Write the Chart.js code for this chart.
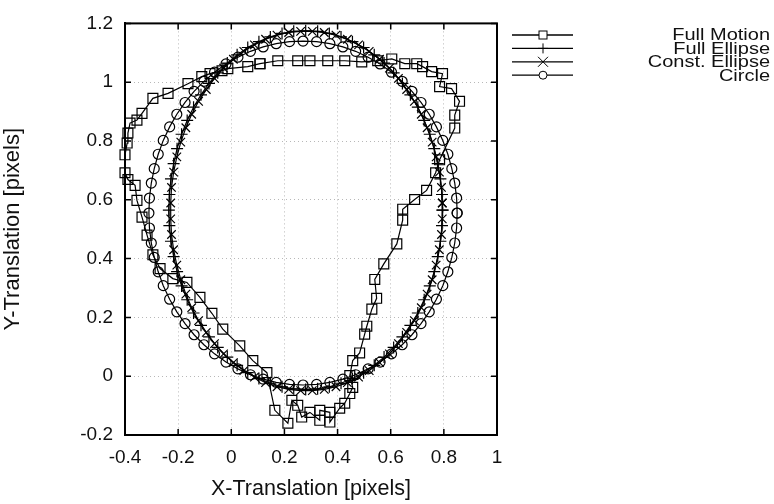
<!DOCTYPE html>
<html>
<head>
<meta charset="utf-8">
<script src="https://cdn.jsdelivr.net/npm/chart.js@4.4.1/dist/chart.umd.min.js"></script>
<style>
  html, body { margin: 0; padding: 0; background: #fff; }
  #wrap { width: 774px; height: 504px; }
</style>
</head>
<body>
<div id="wrap"><canvas id="motionChart" width="774" height="504"></canvas></div>
<script>
// tick labels
const xTicks = [-0.4, -0.2, 0, 0.2, 0.4, 0.6, 0.8, 1];
const yTicks = [-0.2, 0, 0.2, 0.4, 0.6, 0.8, 1, 1.2];

const seriesNames = ['Full Motion', 'Full Ellipse', 'Const. Ellipse', 'Circle'];

// Full Motion (squares)
const fullMotionX = [0.108,0.175,0.250,0.296,0.363,0.427,0.491,0.551,0.604,0.653,0.698,0.720,0.754,0.795,0.784,0.829,0.859,0.841,0.841,0.784,
  0.769,0.735,0.690,0.645,0.645,0.623,0.574,0.540,0.547,0.529,0.510,0.502,0.483,0.457,0.446,0.457,0.446,0.427,0.408,0.371,
  0.371,0.333,0.333,0.296,0.265,0.250,0.228,0.213,0.164,0.134,0.081,0.032,-0.032,-0.073,-0.118,-0.167,-0.220,-0.268,-0.295,-0.317,
  -0.336,-0.355,-0.362,-0.389,-0.400,-0.400,-0.392,-0.389,-0.381,-0.355,-0.336,-0.295,-0.238,-0.163,-0.111,-0.080,-0.035,-0.013,0.062,0.108];
const fullMotionY = [1.063,1.073,1.073,1.073,1.073,1.073,1.069,1.073,1.079,1.063,1.063,1.053,1.036,1.029,0.985,0.978,0.935,0.888,0.844,0.736,
  0.692,0.632,0.601,0.568,0.531,0.450,0.382,0.329,0.265,0.228,0.170,0.143,0.079,0.053,0.002,-0.038,-0.059,-0.092,-0.109,-0.156,
  -0.123,-0.116,-0.150,-0.123,-0.139,-0.099,-0.082,-0.160,-0.116,0.012,0.053,0.103,0.160,0.214,0.268,0.319,0.332,0.366,0.413,0.480,
  0.541,0.598,0.649,0.669,0.692,0.753,0.793,0.827,0.861,0.871,0.894,0.945,0.962,0.995,1.019,1.029,1.039,1.046,1.053,1.063];

// Full Ellipse (plus)
const fullEllipseX = [0.795,0.793,0.787,0.777,0.764,0.747,0.726,0.702,0.674,0.644,0.611,0.575,0.538,0.498,0.456,0.413,0.369,0.325,
  0.280,0.235,0.191,0.147,0.104,0.062,0.022,-0.015,-0.051,-0.084,-0.114,-0.142,-0.166,-0.187,-0.204,-0.217,-0.227,-0.233,
  -0.235,-0.233,-0.227,-0.217,-0.204,-0.187,-0.166,-0.142,-0.114,-0.084,-0.051,-0.015,0.022,0.062,0.104,0.147,0.191,0.235,
  0.280,0.325,0.369,0.413,0.456,0.498,0.538,0.575,0.611,0.644,0.674,0.702,0.726,0.747,0.764,0.777,0.787,0.793,0.795];
const fullEllipseY = [0.565,0.618,0.671,0.723,0.774,0.823,0.870,0.915,0.957,0.996,1.032,1.065,1.093,1.118,1.138,1.154,1.166,1.173,
  1.175,1.173,1.166,1.154,1.138,1.118,1.093,1.065,1.032,0.996,0.957,0.915,0.870,0.823,0.774,0.723,0.671,0.618,
  0.565,0.512,0.459,0.407,0.356,0.307,0.260,0.215,0.173,0.134,0.098,0.065,0.037,0.012,-0.008,-0.024,-0.036,-0.043,
  -0.045,-0.043,-0.036,-0.024,-0.008,0.012,0.037,0.065,0.098,0.134,0.173,0.215,0.260,0.307,0.356,0.407,0.459,0.512,0.565];

// Const. Ellipse (cross)
const constEllipseX = [0.794,0.791,0.783,0.771,0.756,0.737,0.715,0.689,0.660,0.629,0.595,0.558,0.519,0.479,0.437,0.394,0.350,0.305,
  0.261,0.216,0.172,0.129,0.087,0.047,0.008,-0.029,-0.063,-0.094,-0.123,-0.149,-0.171,-0.190,-0.205,-0.217,-0.225,-0.228,
  -0.228,-0.225,-0.217,-0.205,-0.190,-0.171,-0.149,-0.123,-0.094,-0.063,-0.029,0.008,0.047,0.087,0.129,0.172,0.216,0.261,
  0.305,0.350,0.394,0.437,0.479,0.519,0.558,0.595,0.629,0.660,0.689,0.715,0.737,0.756,0.771,0.783,0.791,0.794,0.794];
const constEllipseY = [0.589,0.642,0.694,0.746,0.796,0.845,0.891,0.935,0.975,1.013,1.048,1.078,1.105,1.127,1.146,1.160,1.169,1.173,
  1.173,1.169,1.160,1.146,1.127,1.105,1.078,1.048,1.013,0.975,0.935,0.891,0.845,0.796,0.746,0.694,0.642,0.589,
  0.535,0.482,0.430,0.378,0.328,0.279,0.233,0.189,0.149,0.111,0.076,0.046,0.019,-0.003,-0.022,-0.036,-0.045,-0.049,
  -0.049,-0.045,-0.036,-0.022,-0.003,0.019,0.046,0.076,0.111,0.149,0.189,0.233,0.279,0.328,0.378,0.430,0.482,0.535,0.589];

// Circle (open circles)
const circleX = [0.850,0.848,0.841,0.830,0.815,0.796,0.772,0.745,0.714,0.680,0.643,0.603,0.560,0.515,0.468,0.420,0.371,0.321,
  0.270,0.219,0.169,0.120,0.072,0.025,-0.020,-0.063,-0.103,-0.140,-0.174,-0.205,-0.232,-0.256,-0.275,-0.290,-0.301,-0.308,
  -0.310,-0.308,-0.301,-0.290,-0.275,-0.256,-0.232,-0.205,-0.174,-0.140,-0.103,-0.063,-0.020,0.025,0.072,0.120,0.169,0.219,
  0.270,0.321,0.371,0.420,0.468,0.515,0.560,0.603,0.643,0.680,0.714,0.745,0.772,0.796,0.815,0.830,0.841,0.848,0.850];
const circleY = [0.555,0.606,0.657,0.706,0.755,0.802,0.848,0.891,0.931,0.969,1.003,1.034,1.062,1.085,1.105,1.120,1.131,1.138,
  1.140,1.138,1.131,1.120,1.105,1.085,1.062,1.034,1.003,0.969,0.931,0.891,0.848,0.802,0.755,0.706,0.657,0.606,
  0.555,0.504,0.453,0.404,0.355,0.308,0.262,0.219,0.179,0.141,0.107,0.076,0.048,0.025,0.005,-0.010,-0.021,-0.028,
  -0.030,-0.028,-0.021,-0.010,0.005,0.025,0.048,0.076,0.107,0.141,0.179,0.219,0.262,0.308,0.355,0.404,0.453,0.504,0.555];

const FONT = '"Liberation Sans", Arial, Helvetica, sans-serif';

function pairs(xs, ys) {
  return xs.map((x, i) => ({ x: x, y: ys[i] }));
}

function series(label, xs, ys, style, radius) {
  return {
    label: label,
    data: pairs(xs, ys),
    showLine: true,
    borderColor: '#000',
    borderWidth: 1.2,
    pointStyle: style,
    pointRadius: radius,
    pointBorderColor: '#000',
    pointBackgroundColor: 'rgba(0,0,0,0)',
    pointBorderWidth: 1.2,
    tension: 0,
    clip: false
  };
}

// frame on all four sides plus inward tick marks
const framePlugin = {
  id: 'frame',
  afterDraw(chart) {
    const { ctx, chartArea: a, scales } = chart;
    ctx.save();
    ctx.strokeStyle = '#000';
    ctx.lineWidth = 1.5;
    ctx.beginPath();
    scales.x.ticks.forEach(t => {
      const px = scales.x.getPixelForValue(t.value);
      ctx.moveTo(px, a.bottom); ctx.lineTo(px, a.bottom - 6);
      ctx.moveTo(px, a.top); ctx.lineTo(px, a.top + 6);
    });
    scales.y.ticks.forEach(t => {
      const py = scales.y.getPixelForValue(t.value);
      ctx.moveTo(a.left, py); ctx.lineTo(a.left + 6, py);
      ctx.moveTo(a.right, py); ctx.lineTo(a.right - 6, py);
    });
    ctx.stroke();
    ctx.lineWidth = 2;
    ctx.strokeRect(a.left, a.top, a.right - a.left, a.bottom - a.top);
    ctx.restore();
  }
};

// legend: line sample with marker, label right aligned
const legendPlugin = {
  id: 'sideLegend',
  afterDraw(chart) {
    const ctx = chart.ctx;
    const x0 = 512, x1 = 573, xm = 543, textRight = 770;
    ctx.save();
    chart.data.datasets.forEach((ds, i) => {
      const y = 35 + i * 13.4;
      ctx.strokeStyle = '#000';
      ctx.lineWidth = 1.3;
      ctx.beginPath();
      ctx.moveTo(x0, y); ctx.lineTo(x1, y);
      ctx.stroke();
      ctx.lineWidth = 1;
      ctx.beginPath();
      if (ds.pointStyle === 'rect') {
        ctx.fillStyle = '#fff';
        ctx.fillRect(xm - 4, y - 4, 8, 8);
        ctx.strokeRect(xm - 4, y - 4, 8, 8);
      } else if (ds.pointStyle === 'circle') {
        ctx.fillStyle = '#fff';
        ctx.arc(xm, y, 4, 0, Math.PI * 2);
        ctx.fill();
        ctx.stroke();
      } else if (ds.pointStyle === 'cross') {
        ctx.moveTo(xm, y - 5); ctx.lineTo(xm, y + 5);
        ctx.moveTo(xm - 5, y); ctx.lineTo(xm + 5, y);
        ctx.stroke();
      } else {
        ctx.moveTo(xm - 5, y - 5); ctx.lineTo(xm + 5, y + 5);
        ctx.moveTo(xm + 5, y - 5); ctx.lineTo(xm - 5, y + 5);
        ctx.stroke();
      }
      // labels are set wide and short, as in the scanned figure
      ctx.save();
      ctx.translate(textRight, y + 1);
      ctx.scale(1.25, 1);
      ctx.fillStyle = '#111';
      ctx.font = '16px ' + FONT;
      ctx.textAlign = 'right';
      ctx.textBaseline = 'middle';
      ctx.fillText(ds.label, 0, 0);
      ctx.restore();
    });
    ctx.restore();
  }
};

const config = {
  type: 'scatter',
  data: {
    datasets: [
      series(seriesNames[0], fullMotionX, fullMotionY, 'rect', 7),
      series(seriesNames[1], fullEllipseX, fullEllipseY, 'cross', 6),
      series(seriesNames[2], constEllipseX, constEllipseY, 'crossRot', 6),
      series(seriesNames[3], circleX, circleY, 'circle', 5)
    ]
  },
  options: {
    responsive: false,
    animation: false,
    devicePixelRatio: 1,
    layout: { padding: { left: 0, right: 277, top: 19, bottom: 0 } },
    plugins: {
      legend: { display: false },
      tooltip: { enabled: false }
    },
    scales: {
      x: {
        type: 'linear',
        min: -0.4,
        max: 1,
        afterBuildTicks: s => { s.ticks = xTicks.map(v => ({ value: v })); },
        afterFit: s => { s.height = 69; },
        ticks: {
          callback: v => String(v),
          color: '#111',
          padding: 11,
          maxRotation: 0,
          font: { family: FONT, size: 19 }
        },
        grid: { color: '#b8b8b8', lineWidth: 1, drawTicks: false },
        border: { display: true, color: '#000', width: 2, dash: [1, 3] },
        title: {
          display: true,
          text: 'X-Translation [pixels]',
          color: '#111',
          font: { family: FONT, size: 21.5 },
          padding: { top: 0, bottom: 2 }
        }
      },
      y: {
        type: 'linear',
        min: -0.2,
        max: 1.2,
        afterBuildTicks: s => { s.ticks = yTicks.map(v => ({ value: v })); },
        afterFit: s => { s.width = 125; },
        ticks: {
          callback: v => String(v),
          color: '#111',
          padding: 12,
          font: { family: FONT, size: 19 }
        },
        grid: { color: '#b8b8b8', lineWidth: 1, drawTicks: false },
        border: { display: true, color: '#000', width: 2, dash: [1, 3] },
        title: {
          display: true,
          text: 'Y-Translation [pixels]',
          color: '#111',
          font: { family: FONT, size: 22 },
          padding: { top: 0, bottom: 0 }
        }
      }
    }
  },
  plugins: [framePlugin, legendPlugin]
};

const ctx = document.getElementById('motionChart').getContext('2d');
new Chart(ctx, config);
</script>
</body>
</html>
